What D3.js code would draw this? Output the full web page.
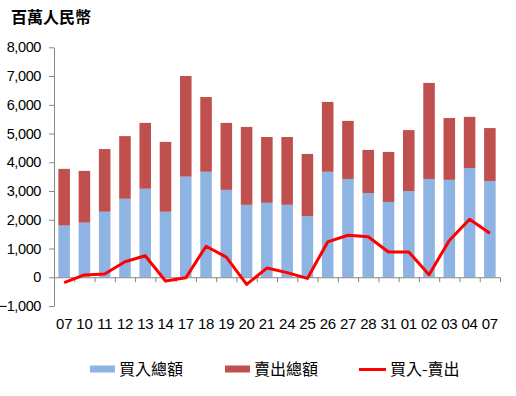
<!DOCTYPE html>
<html>
<head>
<meta charset="utf-8">
<script src="https://d3js.org/d3.v7.min.js"></script>
<style>
    body { margin: 0; background: #fff; }
    text { font-family: "Liberation Sans", Arial, sans-serif; }
    .cjk { font-family: "Noto Sans CJK TC", sans-serif; }
</style>
</head>
<body>
<script>
// trading days
const days = ['07','10','11','12','13','14','17','18','19','20','21','24','25','26','27','28','31','01','02','03','04','07'];
// 買入總額 (million RMB)
const buy  = [1800,1900,2280,2730,3080,2280,3500,3670,3040,2520,2590,2520,2130,3670,3420,2930,2620,3000,3420,3390,3800,3350];
// 賣出總額
const sell = [1970,1800,2180,2180,2290,2430,3500,2600,2330,2710,2290,2360,2160,2430,2020,1500,1740,2120,3340,2150,1780,1840];
// 買入-賣出
const net  = [-190,80,110,540,750,-130,-20,1080,700,-250,320,160,-40,1230,1460,1410,880,880,90,1280,2020,1530];
const yTicks = [-1000,0,1000,2000,3000,4000,5000,6000,7000,8000];
const legendNames = ['買入總額','賣出總額','買入-賣出'];

const width = 516, height = 396;
const plot = { left: 54, right: 500, top: 47.3, bottom: 306 };
const blue = '#8eb4e3', red = '#c0504d', lineRed = '#ff0000', axisGrey = '#868686';

const idx = d3.range(days.length);

const x = d3.scaleBand()
    .domain(idx)
    .range([plot.left, plot.right])
    .paddingInner(0.43)
    .paddingOuter(0.215);

const xb = d3.scaleLinear()
    .domain([0, days.length])
    .range([plot.left, plot.right]);

const y = d3.scaleLinear()
    .domain([-1000, 8000])
    .range([plot.bottom, plot.top]);

const svg = d3.select('body').append('svg')
    .attr('width', width)
    .attr('height', height);

svg.append('text')
    .attr('class', 'cjk')
    .attr('x', 11)
    .attr('y', 23)
    .attr('font-size', 16)
    .attr('font-weight', 'bold')
    .text('百萬人民幣');

// stacked bars
const bars = svg.append('g');
bars.selectAll('.b').data(idx).join('rect')
    .attr('x', i => x(i))
    .attr('width', x.bandwidth())
    .attr('y', i => y(buy[i]))
    .attr('height', i => y(0) - y(buy[i]))
    .attr('fill', blue);
bars.selectAll('.s').data(idx).join('rect')
    .attr('x', i => x(i))
    .attr('width', x.bandwidth())
    .attr('y', i => y(buy[i] + sell[i]))
    .attr('height', i => y(buy[i]) - y(buy[i] + sell[i]))
    .attr('fill', red);

// y axis
const ya = svg.append('g')
    .attr('transform', `translate(${plot.left},0)`)
    .call(d3.axisLeft(y).tickValues(yTicks).tickFormat(d3.format(',')).tickSize(5).tickPadding(8).tickSizeOuter(0));
ya.selectAll('path, line').attr('stroke', axisGrey);
ya.selectAll('text').attr('font-size', 14.5).attr('letter-spacing', -0.4).attr('fill', '#000')
    .style('font-family', '"Liberation Sans", Arial, sans-serif');

// x axis line with ticks between categories
const xa = svg.append('g')
    .attr('transform', `translate(0,${y(0)})`)
    .call(d3.axisBottom(xb).ticks(days.length).tickFormat('').tickSize(5).tickSizeOuter(0));
xa.selectAll('path, line').attr('stroke', axisGrey);

// category labels below the plot
const xl = svg.append('g')
    .attr('transform', `translate(0,${plot.bottom})`)
    .call(d3.axisBottom(x).tickFormat(i => days[i]).tickSize(0).tickPadding(12));
xl.select('.domain').remove();
xl.selectAll('text').attr('font-size', 15).attr('letter-spacing', -0.3).attr('fill', '#000')
    .style('font-family', '"Liberation Sans", Arial, sans-serif');

// net line
svg.append('path')
    .datum(idx)
    .attr('fill', 'none')
    .attr('stroke', lineRed)
    .attr('stroke-width', 3)
    .attr('stroke-linejoin', 'round')
    .attr('d', d3.line().x(i => x(i) + x.bandwidth() / 2).y(i => y(net[i])));

// legend
const legend = svg.append('g').attr('transform', 'translate(0,369)');
const lx = [90, 225, 359];
legendNames.forEach((name, k) => {
    const g = legend.append('g').attr('transform', `translate(${lx[k]},0)`);
    if (k < 2) {
        g.append('rect').attr('x', 0).attr('y', -3.5).attr('width', 25).attr('height', 7)
            .attr('fill', k === 0 ? blue : red);
    } else {
        g.append('line').attr('x1', 0).attr('x2', 27).attr('y1', 0.5).attr('y2', 0.5)
            .attr('stroke', lineRed).attr('stroke-width', 3);
    }
    g.append('text')
        .attr('class', 'cjk')
        .attr('x', k < 2 ? 29 : 31)
        .attr('y', 0)
        .attr('dy', '0.35em')
        .attr('font-size', 16)
        .text(name);
});
</script>
</body>
</html>
